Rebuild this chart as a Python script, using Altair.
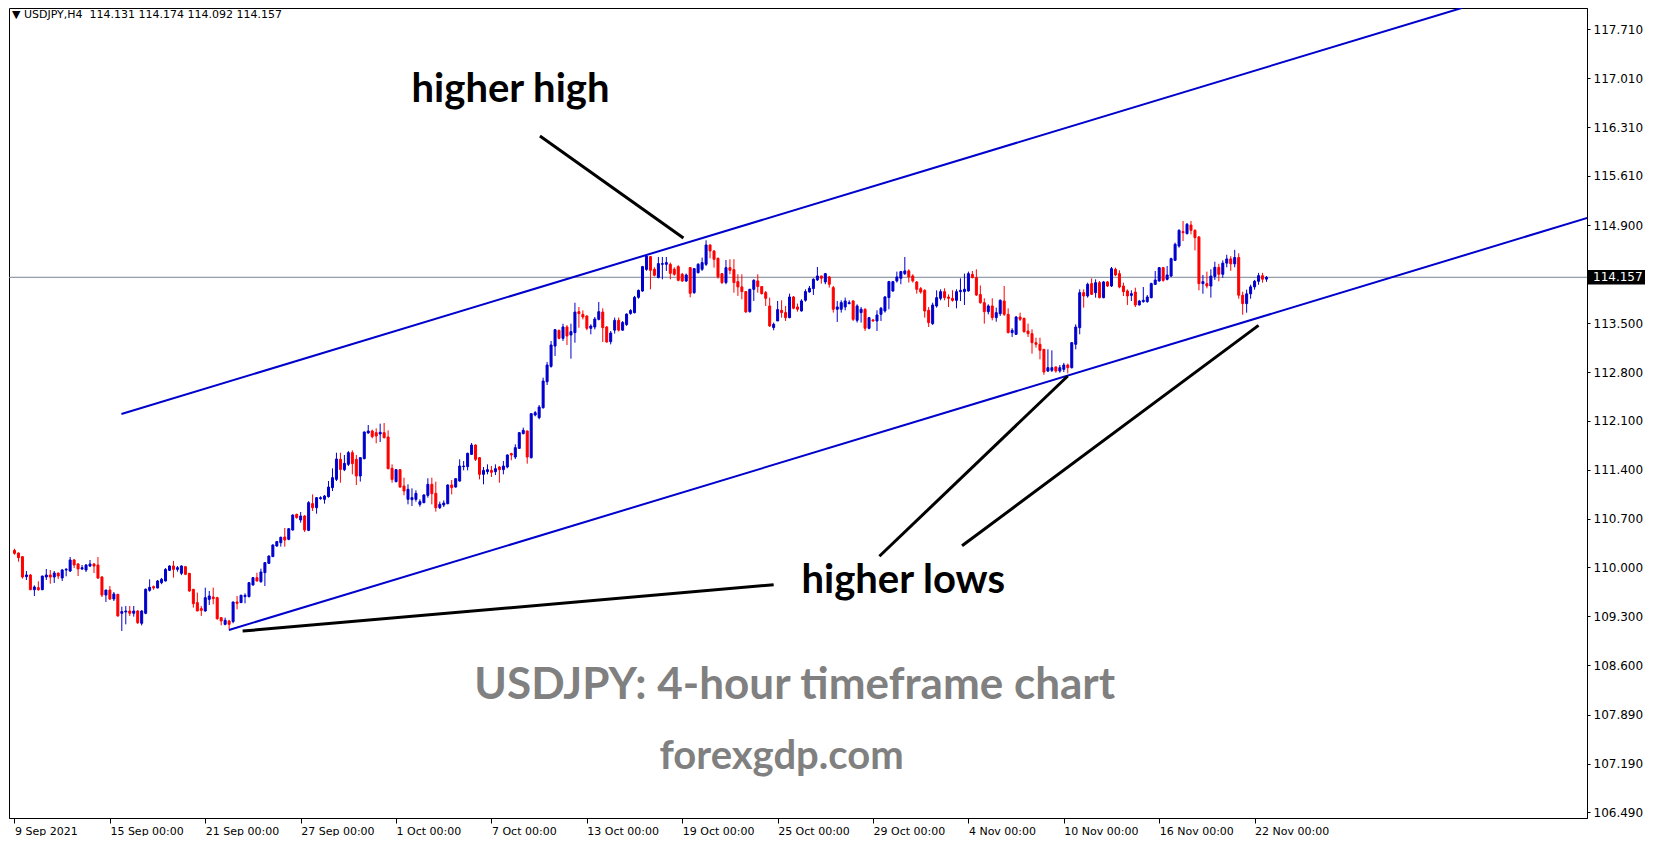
import altair as alt
import pandas as pd

# ---------------- data ----------------
opens = [110.245,110.207,110.154,109.868,109.892,109.681,109.710,109.681,109.863,109.892,
109.863,109.920,109.849,109.963,109.949,110.107,110.049,109.978,109.963,110.020,
110.049,110.035,109.863,109.605,109.677,109.548,109.615,109.343,109.362,109.376,
109.343,109.376,109.200,109.343,109.672,109.725,109.706,109.782,109.806,109.959,
110.021,109.973,109.916,110.011,109.916,109.687,109.496,109.410,109.376,109.543,
109.577,109.567,109.281,109.185,109.233,109.224,109.505,109.496,109.582,109.582,
109.749,109.854,109.796,109.925,110.059,110.155,110.307,110.355,110.436,110.403,
110.536,110.761,110.680,110.737,110.532,110.914,110.856,110.985,110.976,111.014,
111.143,111.262,111.549,111.401,111.477,111.644,111.549,111.310,111.558,111.926,
111.955,111.931,111.912,111.931,111.869,111.420,111.229,111.401,111.167,110.976,
110.971,110.976,110.904,110.928,111.033,111.191,111.062,110.856,110.895,110.914,
111.181,111.152,111.238,111.444,111.444,111.620,111.754,111.573,111.334,111.372,
111.391,111.372,111.439,111.401,111.439,111.630,111.582,111.706,111.917,111.955,
111.573,112.184,112.146,112.289,112.661,112.881,113.172,113.397,113.282,113.445,
113.330,113.364,113.664,113.626,113.602,113.426,113.445,113.554,113.659,113.445,
113.235,113.400,113.540,113.400,113.480,113.640,113.650,113.870,113.960,114.270,
114.453,114.272,114.152,114.343,114.343,114.343,114.272,114.310,114.200,114.104,
114.296,113.937,114.224,114.272,114.343,114.620,114.534,114.429,114.209,114.081,
114.295,114.267,114.095,114.019,113.952,113.665,113.985,114.105,114.024,113.937,
113.746,113.436,113.531,113.684,113.651,113.579,113.875,113.732,113.675,113.828,
113.947,113.995,114.119,114.176,114.090,114.162,114.009,113.699,113.699,113.732,
113.780,113.818,113.541,113.651,113.699,113.426,113.546,113.531,113.627,113.675,
113.866,113.961,114.105,114.143,114.209,114.248,114.176,114.090,113.994,113.970,
113.684,113.493,113.746,113.856,113.951,113.875,113.856,113.827,113.951,113.951,
113.961,114.199,114.152,113.910,113.793,113.664,113.746,113.579,113.636,113.817,
113.626,113.364,113.340,113.588,113.569,113.387,113.349,113.220,113.197,113.125,
112.814,112.824,112.872,112.814,112.838,112.900,112.862,113.197,113.435,113.937,
113.889,114.066,113.937,114.080,113.865,114.090,114.032,114.271,114.209,114.032,
113.961,113.898,113.946,113.760,113.808,113.808,113.865,114.056,114.104,114.295,
114.128,114.175,114.400,114.605,114.811,114.782,114.906,114.830,114.734,114.066,
114.066,114.032,114.170,114.300,114.200,114.360,114.420,114.350,114.440,113.900,
113.780,113.920,114.020,114.100,114.180,114.131]

highs = [110.269,110.215,110.160,109.949,109.906,109.744,109.801,109.880,109.978,109.963,
109.949,109.925,109.978,109.992,110.149,110.121,110.063,110.035,110.049,110.107,
110.063,110.149,109.877,109.677,109.734,109.648,109.620,109.438,109.448,109.448,
109.448,109.390,109.390,109.700,109.830,109.740,109.820,109.850,109.990,110.030,
110.093,110.020,110.030,110.020,109.920,109.690,109.639,109.448,109.710,109.663,
109.711,109.580,109.290,109.281,109.250,109.510,109.591,109.610,109.629,109.790,
109.860,109.925,109.983,110.078,110.170,110.330,110.380,110.441,110.565,110.560,
110.760,110.770,110.794,110.750,110.950,111.047,111.009,111.020,111.038,111.238,
111.420,111.644,111.644,111.611,111.668,111.678,111.611,111.582,111.950,112.041,
111.974,111.993,112.060,112.069,111.964,111.477,111.410,111.406,111.286,111.191,
111.133,111.105,110.976,111.050,111.277,111.286,111.229,110.942,110.961,111.190,
111.253,111.277,111.549,111.525,111.644,111.783,111.764,111.582,111.439,111.477,
111.453,111.477,111.453,111.525,111.620,111.644,111.764,111.940,112.003,111.960,
112.210,112.241,112.327,112.719,112.943,113.244,113.416,113.406,113.492,113.473,
113.492,113.793,113.731,113.683,113.612,113.483,113.588,113.803,113.712,113.459,
113.387,113.580,113.580,113.530,113.640,113.700,113.890,113.980,114.320,114.490,
114.460,114.300,114.448,114.448,114.448,114.367,114.300,114.330,114.220,114.210,
114.300,114.290,114.360,114.439,114.687,114.630,114.544,114.439,114.220,114.405,
114.415,114.415,114.200,114.200,113.960,113.990,114.128,114.200,114.030,113.961,
113.866,113.508,113.818,113.827,113.746,113.923,113.889,113.780,113.842,113.985,
114.033,114.143,114.305,114.176,114.219,114.176,114.033,113.818,113.828,113.866,
113.828,113.828,113.770,113.732,113.713,113.589,113.560,113.684,113.732,113.889,
114.105,114.105,114.238,114.248,114.448,114.272,114.200,114.104,114.018,113.985,
113.731,113.793,113.970,113.985,113.999,113.913,113.970,113.985,114.142,114.209,
114.238,114.247,114.271,114.040,113.856,113.770,113.856,113.722,113.841,114.032,
113.712,113.426,113.603,113.650,113.579,113.493,113.412,113.292,113.292,113.130,
113.125,113.110,112.880,112.900,112.930,112.920,113.230,113.483,113.984,113.984,
114.080,114.142,114.128,114.104,114.104,114.104,114.304,114.295,114.257,114.080,
113.984,113.970,114.008,113.832,114.018,113.903,114.080,114.247,114.304,114.304,
114.319,114.438,114.653,114.844,114.963,114.935,114.963,114.844,114.749,114.190,
114.238,114.271,114.380,114.350,114.400,114.480,114.460,114.550,114.500,113.950,
113.980,114.050,114.120,114.220,114.220,114.174]

lows = [110.183,110.083,109.839,109.820,109.675,109.591,109.667,109.675,109.820,109.767,
109.777,109.834,109.806,109.873,109.935,109.992,109.877,109.963,109.935,110.006,
109.920,109.834,109.576,109.505,109.533,109.519,109.295,109.090,109.185,109.305,
109.295,109.190,109.170,109.330,109.653,109.680,109.700,109.760,109.800,109.950,
109.854,109.940,109.890,109.890,109.650,109.424,109.376,109.305,109.367,109.462,
109.472,109.250,109.171,109.171,109.115,109.200,109.400,109.490,109.486,109.570,
109.740,109.800,109.780,109.734,110.050,110.150,110.297,110.298,110.297,110.390,
110.530,110.700,110.641,110.508,110.520,110.809,110.770,110.970,110.914,111.000,
111.095,111.238,111.214,111.380,111.453,111.334,111.181,111.229,111.550,111.916,
111.850,111.778,111.797,111.850,111.406,111.214,111.220,111.143,111.033,110.904,
110.880,110.942,110.871,110.920,111.000,110.904,110.799,110.837,110.866,110.904,
111.047,111.143,111.229,111.391,111.391,111.611,111.525,111.262,111.191,111.334,
111.296,111.324,111.214,111.334,111.420,111.535,111.553,111.700,111.907,111.487,
111.560,112.165,112.122,112.275,112.614,112.862,113.029,113.268,113.244,113.187,
112.991,113.220,113.435,113.554,113.397,113.340,113.411,113.540,113.230,113.220,
113.196,113.350,113.380,113.390,113.460,113.620,113.640,113.850,113.950,114.250,
113.985,114.170,114.143,114.128,114.248,114.128,114.180,114.100,114.090,114.090,
113.870,113.920,114.210,114.248,114.319,114.429,114.295,114.138,114.060,114.057,
114.200,113.937,113.890,113.842,113.650,113.650,113.818,113.937,113.910,113.746,
113.445,113.398,113.531,113.579,113.531,113.570,113.699,113.665,113.665,113.808,
113.937,113.904,114.105,114.066,114.057,114.009,113.651,113.517,113.651,113.684,
113.770,113.531,113.508,113.508,113.388,113.412,113.520,113.388,113.531,113.651,
113.699,113.947,114.081,114.057,114.190,114.081,114.081,113.922,113.922,113.579,
113.445,113.474,113.722,113.827,113.827,113.731,113.808,113.712,113.817,113.760,
113.951,114.142,113.889,113.779,113.493,113.626,113.540,113.521,113.603,113.603,
113.354,113.302,113.330,113.531,113.364,113.302,113.063,113.149,112.982,112.760,
112.800,112.800,112.790,112.790,112.800,112.780,112.850,113.125,113.340,113.722,
113.865,113.903,113.865,113.856,113.856,114.018,114.018,114.175,113.999,113.889,
113.760,113.817,113.731,113.755,113.793,113.793,113.856,114.047,114.094,114.094,
114.113,114.161,114.390,114.581,114.677,114.772,114.772,114.543,113.970,113.922,
113.999,113.865,114.120,114.100,114.150,114.300,114.250,114.300,113.850,113.620,
113.650,113.850,113.980,114.050,114.080,114.092]

closes = [110.202,110.140,109.863,109.892,109.681,109.720,109.681,109.877,109.892,109.863,
109.920,109.877,109.963,109.973,110.107,110.035,109.978,109.997,110.035,110.049,
110.020,109.849,109.605,109.677,109.548,109.620,109.305,109.367,109.376,109.343,
109.376,109.209,109.376,109.687,109.715,109.706,109.806,109.830,109.973,110.021,
109.973,109.997,110.021,109.902,109.663,109.481,109.376,109.386,109.567,109.591,
109.553,109.266,109.233,109.243,109.185,109.505,109.486,109.601,109.601,109.782,
109.854,109.806,109.935,110.069,110.164,110.322,110.370,110.432,110.393,110.555,
110.751,110.713,110.737,110.536,110.928,110.856,111.000,111.000,111.023,111.152,
111.286,111.553,111.405,111.491,111.644,111.487,111.310,111.573,111.940,111.955,
111.874,111.883,111.936,111.859,111.415,111.262,111.401,111.152,111.095,111.119,
111.000,111.062,110.942,111.038,111.191,111.057,110.856,110.904,110.923,111.181,
111.143,111.272,111.453,111.453,111.635,111.754,111.549,111.334,111.391,111.401,
111.363,111.415,111.401,111.453,111.611,111.611,111.716,111.931,111.964,111.582,
112.203,112.217,112.298,112.671,112.900,113.187,113.406,113.282,113.445,113.316,
113.378,113.659,113.636,113.588,113.426,113.459,113.559,113.664,113.435,113.230,
113.359,113.540,113.400,113.510,113.630,113.680,113.870,113.970,114.310,114.460,
114.257,114.186,114.353,114.353,114.367,114.214,114.200,114.114,114.104,114.190,
113.928,114.281,114.343,114.367,114.620,114.534,114.415,114.162,114.081,114.295,
114.257,114.081,114.019,113.952,113.660,113.985,114.114,114.024,113.923,113.856,
113.460,113.484,113.694,113.651,113.579,113.875,113.713,113.699,113.818,113.952,
114.000,114.128,114.176,114.143,114.209,114.057,113.699,113.732,113.794,113.818,
113.794,113.555,113.746,113.699,113.426,113.579,113.531,113.617,113.713,113.875,
114.095,114.095,114.162,114.238,114.248,114.162,114.105,113.985,113.946,113.674,
113.507,113.760,113.865,113.951,113.865,113.856,113.827,113.951,113.970,113.985,
114.209,114.152,113.903,113.793,113.664,113.746,113.579,113.650,113.827,113.626,
113.364,113.397,113.588,113.555,113.378,113.349,113.220,113.197,113.111,112.800,
112.862,112.862,112.814,112.862,112.900,112.862,113.220,113.445,113.937,113.889,
114.056,113.913,114.080,113.865,114.090,114.032,114.281,114.190,114.018,113.951,
113.889,113.922,113.760,113.817,113.827,113.875,114.066,114.118,114.295,114.113,
114.190,114.424,114.629,114.830,114.796,114.916,114.830,114.725,114.066,114.094,
114.032,114.175,114.300,114.200,114.360,114.420,114.350,114.440,113.900,113.780,
113.920,114.020,114.100,114.180,114.130,114.157]

symbol = "USDJPY,H4"
date_labels = ["9 Sep 2021", "15 Sep 00:00", "21 Sep 00:00", "27 Sep 00:00",
               "1 Oct 00:00", "7 Oct 00:00", "13 Oct 00:00", "19 Oct 00:00",
               "25 Oct 00:00", "29 Oct 00:00", "4 Nov 00:00", "10 Nov 00:00",
               "16 Nov 00:00", "22 Nov 00:00"]
bars_per_label = 24
price_ticks = [117.71, 117.01, 116.31, 115.61, 114.90, 113.50, 112.80, 112.10,
               111.40, 110.70, 110.00, 109.30, 108.60, 107.89, 107.19, 106.49]

# channel trend lines (bar index, price)
channel_x1 = [26.9, 53.95]
channel_y1 = [112.198, 109.104]
channel_x2 = [364.1, 400.0]
channel_y2 = [118.015, 115.081]

# black pointer lines (bar index, price)
pointer_x1 = [132.2, 217.6, 238.4, 57.4]
pointer_y1 = [116.18, 110.16, 110.31, 109.088]
pointer_x2 = [168.3, 265.0, 313.0, 191.0]
pointer_y2 = [114.72, 112.743, 113.468, 109.753]

note_text = ["higher high", "higher lows"]
note_x = [124.8, 223.6]
note_y = [116.84, 109.80]

caption_text = ["USDJPY: 4-hour timeframe chart", "forexgdp.com"]
caption_x = [196.3, 193.0]
caption_y = [108.30, 107.28]
caption_size = [44, 40]

# ---------------- layout ----------------
W, H = 1578, 810
PX_PER_YEN = 69.8
Y_TOP = 118.015
y_dom = [Y_TOP - H / PX_PER_YEN, Y_TOP]
x_dom = [-0.125, -0.125 + W / 4.0]

BLUE = "#0000CD"
RED = "#FF0000"
AXFONT = "DejaVu Sans"

n = len(opens)
candles = pd.DataFrame({
    "bar": list(range(n)), "open": opens, "high": highs, "low": lows, "close": closes,
})
candles["dir"] = ["up" if c >= o else "down" for o, c in zip(opens, closes)]

xs = alt.Scale(domain=x_dom, nice=False, zero=False)
ys = alt.Scale(domain=y_dom, nice=False, zero=False)
cscale = alt.Scale(domain=["up", "down"], range=[BLUE, RED])

labels_js = "[" + ",".join("'" + s + "'" for s in date_labels) + "]"
x_axis = alt.Axis(
    values=[k * bars_per_label for k in range(len(date_labels))],
    labelExpr=f"{labels_js}[round(datum.value / {bars_per_label})]",
    orient="bottom", labelAlign="left", labelBaseline="top", labelPadding=2,
    tickSize=5, tickColor="black", domainColor="black", labelColor="black",
    labelFont=AXFONT, labelFontSize=11, grid=False, title=None,
    labelFlush=False, labelOverlap=False, labelBound=False,
)
y_axis = alt.Axis(
    values=price_ticks, format=".3f", orient="right", tickSize=3, labelPadding=3,
    tickColor="black", domainColor="black", labelColor="black",
    labelFont=AXFONT, labelFontSize=12, grid=False, title=None,
    labelFlush=False, labelOverlap=False, labelBaseline="middle",
)


def X(field):
    return alt.X(field, scale=xs, axis=x_axis, title=None)


def Y(field):
    return alt.Y(field, scale=ys, axis=y_axis, title=None)


base = alt.Chart(candles)
wicks = base.mark_rule(strokeWidth=1).encode(
    x=X("bar:Q"), y=Y("low:Q"), y2="high:Q",
    color=alt.Color("dir:N", scale=cscale, legend=None),
)
bodies = base.mark_bar(size=2, strokeWidth=1).encode(
    x=X("bar:Q"), y=Y("open:Q"), y2="close:Q",
    color=alt.Color("dir:N", scale=cscale, legend=None),
    stroke=alt.Stroke("dir:N", scale=cscale, legend=None),
)

last = pd.DataFrame({"p": [closes[-1]], "label": [f"{closes[-1]:.3f}"]})
price_line = alt.Chart(last).mark_rule(color="#7a8594", strokeWidth=1).encode(y=Y("p:Q"))
price_box = alt.Chart(last).transform_calculate(
    top="datum.p + 0.105", bot="datum.p - 0.105"
).mark_rect(color="black").encode(
    x=alt.value(W + 1), x2=alt.value(W + 58), y=Y("top:Q"), y2="bot:Q",
)
price_txt = alt.Chart(last).mark_text(
    color="white", align="left", baseline="middle", font=AXFONT, fontSize=12
).encode(x=alt.value(W + 6), y=Y("p:Q"), text="label:N")

channel = alt.Chart(pd.DataFrame({
    "x": channel_x1, "y": channel_y1, "x2": channel_x2, "y2": channel_y2
})).mark_rule(color=BLUE, strokeWidth=2, clip=True).encode(
    x=X("x:Q"), x2="x2:Q", y=Y("y:Q"), y2="y2:Q",
)
pointers = alt.Chart(pd.DataFrame({
    "x": pointer_x1, "y": pointer_y1, "x2": pointer_x2, "y2": pointer_y2
})).mark_rule(color="black", strokeWidth=3).encode(
    x=X("x:Q"), x2="x2:Q", y=Y("y:Q"), y2="y2:Q",
)

notes = alt.Chart(pd.DataFrame({"x": note_x, "y": note_y, "t": note_text})).mark_text(
    font="Lato", fontWeight="bold", fontSize=40, color="black",
    align="center", baseline="middle"
).encode(x=X("x:Q"), y=Y("y:Q"), text="t:N")

captions = alt.Chart(pd.DataFrame({
    "x": caption_x, "y": caption_y, "t": caption_text, "s": caption_size
})).mark_text(
    font="Lato", fontWeight="bold", color="#808080", align="center", baseline="middle"
).encode(
    x=X("x:Q"), y=Y("y:Q"), text="t:N",
    size=alt.Size("s:Q", scale=None, legend=None),
)

header_str = "\u25BC " + symbol + "\u00a0\u00a0" + " ".join(
    f"{v:.3f}" for v in (opens[-1], highs[-1], lows[-1], closes[-1]))
header = alt.Chart(pd.DataFrame({"t": [header_str]})).mark_text(
    align="left", baseline="middle", font=AXFONT, fontSize=11, color="black"
).encode(x=alt.value(3), y=alt.value(7), text="t:N")

chart = alt.layer(
    price_line, wicks, bodies, channel, pointers, notes, captions, header,
    price_box, price_txt,
).properties(
    width=W, height=H, padding={"left": 0, "top": 0, "right": 0, "bottom": 0},
    background="white",
).configure_view(stroke="black", strokeWidth=1)

chart.save("out.html", embed_options={"renderer": "svg", "actions": False})
